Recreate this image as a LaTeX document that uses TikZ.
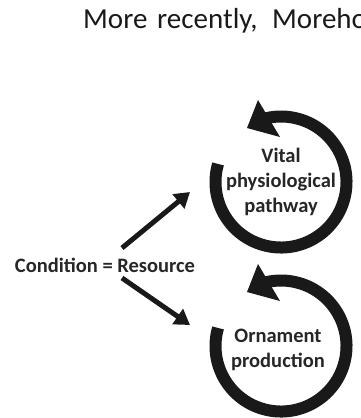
\documentclass[tikz,border=0pt]{standalone}
\usepackage{fontspec}
\setmainfont{Carlito}
\usetikzlibrary{arrows.meta,calc}
\begin{document}
\begin{tikzpicture}[x=1pt,y=1pt,
  ring/.style={line width=12pt, draw=black!90},
  head/.style={fill=black!90},
  lbl/.style={font=\bfseries\fontsize{20.5}{25}\selectfont, align=center, text=black!85, inner sep=0pt},
  word/.style={anchor=base west, font=\fontsize{29}{34}\selectfont, inner sep=0pt, text=black!90},
  conn/.style={line width=5pt, draw=black!90, -{Triangle[length=15pt,width=18pt]}}]
\useasboundingbox (0,0) rectangle (361,-418);
\node[word] (w1) at (83,-28) {More};
\node[word] (w2) at (157,-28) {recently,};
\node[word] (w3) at (272,-28) {Moreho};
\coordinate (c1) at (281,-182);
\coordinate (c2) at (281,-346);
\foreach \c in {c1,c2}{
  \draw[ring] ($(\c)+(164:65.5)$) arc[start angle=164, end angle=464, radius=65.5];
  \fill[head] ($(\c)+(-23,82)$) -- ($(\c)+(-34,54)$) -- ($(\c)+(-1,45)$) -- cycle;
}
\node[lbl] (vital) at (281,-182) {Vital\\physiological\\pathway};
\node[lbl] (orn) at (278,-349.5) {Ornament\\production};
\node[lbl] (cond) at (105,-265) {Condition = Resource};
\coordinate (s1) at ($(cond.center)+(17,17)$);
\coordinate (s2) at ($(cond.center)+(17,-13)$);
\coordinate (t1) at (190,-192);
\coordinate (t2) at (190,-325);
\draw[conn] (s1) -- (t1);
\draw[conn] (s2) -- (t2);
\end{tikzpicture}
\end{document}
